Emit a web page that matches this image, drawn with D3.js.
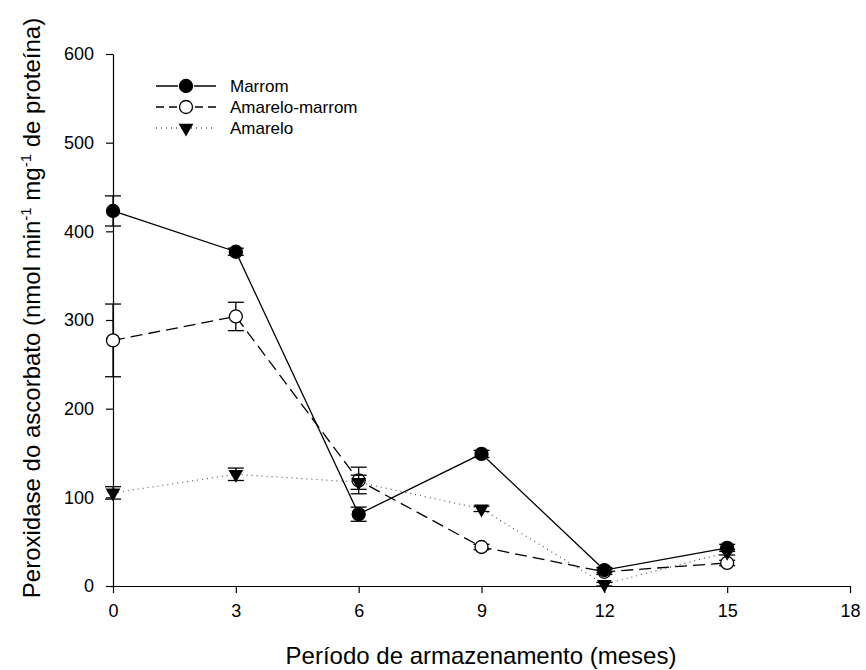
<!DOCTYPE html>
<html>
<head>
<meta charset="utf-8">
<script src="https://cdn.jsdelivr.net/npm/d3@7"></script>
<style>
  body { margin: 0; background: #fff; }
  text { font-family: "Liberation Sans", Arial, sans-serif; fill: #000; }
</style>
</head>
<body>
<svg></svg>
<script>
// data
const meses = [0, 3, 6, 9, 12, 15];
const marrom = [423, 377, 81, 149, 18, 43];
const marromErr = [17, 4, 8, 4, 3, 4];
const amareloMarrom = [277, 304, 119, 44, 16, 26];
const amareloMarromErr = [41, 16, 15, 3, 3, 3];
const amarelo = [105, 126, 117, 87, 2, 38];
const amareloErr = [7, 7, 8, 3, 2, 3];
const xTicks = [0, 3, 6, 9, 12, 15, 18];
const yTicks = [0, 100, 200, 300, 400, 500, 600];
const legendNames = ["Marrom", "Amarelo-marrom", "Amarelo"];

// setting
const Width = 866;
const Height = 670;
const svg = d3.select("svg").attr("width", Width).attr("height", Height);

const x = d3.scaleLinear().domain([0, 18]).range([113, 850]);
const y = d3.scaleLinear().domain([0, 600]).range([586, 54]);

// axes
svg.append("g")
  .attr("transform", "translate(0,586)")
  .call(d3.axisBottom(x).tickValues(xTicks).tickSize(7).tickPadding(11).tickSizeOuter(0))
  .call(g => g.selectAll("text").style("font-size", "18px"));

svg.append("g")
  .attr("transform", "translate(113,0)")
  .call(d3.axisLeft(y).tickValues(yTicks).tickSize(7).tickPadding(12).tickSizeOuter(0))
  .call(g => g.selectAll("text").style("font-size", "18px"));

svg.selectAll(".domain, .tick line").attr("stroke", "#000").attr("stroke-width", 1.2);

// axis titles
svg.append("text")
  .attr("x", 481).attr("y", 664)
  .attr("text-anchor", "middle")
  .style("font-size", "24px")
  .text("Período de armazenamento (meses)");

const yt = svg.append("text")
  .attr("transform", "translate(40,308) rotate(-90)")
  .attr("text-anchor", "middle")
  .style("font-size", "24px");
yt.append("tspan").text("Peroxidase do ascorbato (nmol min");
yt.append("tspan").attr("dy", -9).style("font-size", "15px").text("-1");
yt.append("tspan").attr("dy", 9).text(" mg");
yt.append("tspan").attr("dy", -9).style("font-size", "15px").text("-1");
yt.append("tspan").attr("dy", 9).text(" de proteína)");

// series
const series = [
  { name: "Amarelo-marrom", vals: amareloMarrom, err: amareloMarromErr, dash: "12,6", marker: "open", sw: 1.3 },
  { name: "Amarelo", vals: amarelo, err: amareloErr, dash: "1,4", marker: "tri", sw: 1.2 },
  { name: "Marrom", vals: marrom, err: marromErr, dash: null, marker: "filled", sw: 1.3 }
];

const line = d3.line().x((d, i) => x(meses[i])).y(d => y(d));
const tri = d3.symbol().type(d3.symbolTriangle).size(95);

function drawMarker(g, type, cx, cy) {
  if (type === "tri") {
    g.append("path").attr("d", tri())
      .attr("transform", `translate(${cx},${cy}) rotate(180)`)
      .attr("fill", "#000");
  } else {
    g.append("circle").attr("cx", cx).attr("cy", cy).attr("r", 6.5)
      .attr("fill", type === "open" ? "#fff" : "#000")
      .attr("stroke", "#000").attr("stroke-width", 1.3);
  }
}

series.forEach(s => {
  const g = svg.append("g");
  g.append("path")
    .attr("d", line(s.vals))
    .attr("fill", "none")
    .attr("stroke", s.marker === "tri" ? "#555" : "#000")
    .attr("stroke-width", s.sw)
    .attr("stroke-dasharray", s.dash);
  s.vals.forEach((v, i) => {
    const cx = x(meses[i]);
    const e = s.err[i];
    g.append("line").attr("x1", cx).attr("x2", cx)
      .attr("y1", y(v + e)).attr("y2", y(v - e))
      .attr("stroke", "#000").attr("stroke-width", 1.3);
    [v + e, v - e].forEach(c => {
      g.append("line").attr("x1", cx - 8).attr("x2", cx + 8)
        .attr("y1", y(c)).attr("y2", y(c))
        .attr("stroke", "#000").attr("stroke-width", 1.3);
    });
    drawMarker(g, s.marker, cx, y(v));
  });
});

// legend
const legendStyle = [
  { dash: null, marker: "filled", color: "#000" },
  { dash: "8,5", marker: "open", color: "#000" },
  { dash: "1,4", marker: "tri", color: "#555" }
];
const lg = svg.append("g");
legendNames.forEach((n, i) => {
  const ly = 86 + i * 21;
  lg.append("line").attr("x1", 156).attr("x2", 216).attr("y1", ly).attr("y2", ly)
    .attr("stroke", legendStyle[i].color).attr("stroke-width", 1.3)
    .attr("stroke-dasharray", legendStyle[i].dash);
  if (legendStyle[i].marker !== "tri") {
    lg.append("rect").attr("x", 178).attr("y", ly - 8).attr("width", 16).attr("height", 16).attr("fill", "#fff");
  }
  drawMarker(lg, legendStyle[i].marker, 186, ly);
  lg.append("text").attr("x", 230).attr("y", ly + 6)
    .style("font-size", "17px").text(n);
});
</script>
</body>
</html>
